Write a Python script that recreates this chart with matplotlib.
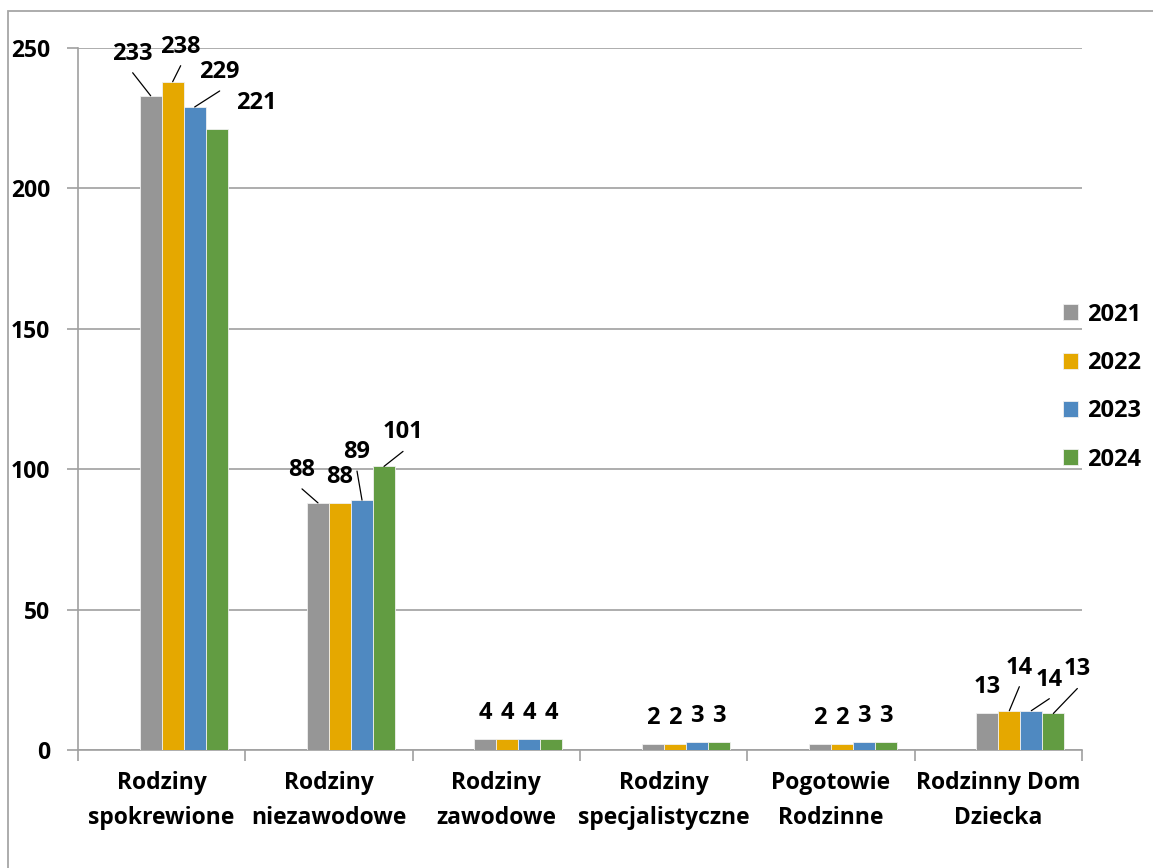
import matplotlib
matplotlib.use("Agg")
import matplotlib.pyplot as plt
from matplotlib.patches import Rectangle
import numpy as np

plt.rcParams["font.family"] = ["Open Sans", "DejaVu Sans"]
plt.rcParams["font.weight"] = "bold"

categories = ["Rodziny\nspokrewione", "Rodziny\nniezawodowe", "Rodziny\nzawodowe",
              "Rodziny\nspecjalistyczne", "Pogotowie\nRodzinne", "Rodzinny Dom\nDziecka"]
years = ["2021", "2022", "2023", "2024"]
v2021 = [233, 88, 4, 2, 2, 13]
v2022 = [238, 88, 4, 2, 2, 14]
v2023 = [229, 89, 4, 3, 3, 14]
v2024 = [221, 101, 4, 3, 3, 13]
series = [v2021, v2022, v2023, v2024]
colors = ["#969696", "#E5A800", "#4F89C1", "#629C42"]

# label shifts in pixels (dx, dy up) for labels Excel moved aside, with leader line
moved = {
    (0, 0): (-18, 16), (0, 1): (8, 9), (0, 2): (25, 9), (0, 3): (40, 0),
    (1, 0): (-16, 7), (1, 2): (-5, 22), (1, 3): (19, 8),
    (5, 1): (10, 17), (5, 2): (18, 5), (5, 3): (24, 18),
}
no_leader = {(0, 3)}

fig = plt.figure(figsize=(11.53, 8.68), dpi=100)
ax = fig.add_axes([78 / 1153, 118 / 868, 1004 / 1153, 702 / 868])

# outer chart frame
fig.patches.append(Rectangle((8 / 1153, -0.05), 1.1, 1 - 11 / 868 + 0.05,
                             transform=fig.transFigure, fill=False,
                             edgecolor="#a6a6a6", lw=1.3))

x = np.arange(len(categories))
w = 0.1315
for k, vals in enumerate(series):
    xs = x + (k - 0.5) * w
    ax.bar(xs, vals, width=w, color=colors[k], edgecolor="#f0f0f0", lw=0.6,
           label=years[k], zorder=3)
    for i, v in enumerate(vals):
        dx, dy = moved.get((i, k), (0, 0))
        up = 26 + dy
        ax.annotate(str(v), xy=(xs[i], v), xytext=(dx, up),
                    textcoords="offset pixels", ha="center", va="center",
                    fontsize=17, fontweight="bold", zorder=5)
        if (i, k) in moved and (i, k) not in no_leader:
            ax.annotate("", xy=(xs[i], v), xytext=(dx, up - 19),
                        textcoords="offset pixels",
                        arrowprops=dict(arrowstyle="-", color="black", lw=0.9,
                                        shrinkA=0, shrinkB=0), zorder=4)

ax.set_xlim(-0.5, len(categories) - 0.5)
ax.set_ylim(0, 250)
ax.set_yticks(np.arange(0, 251, 50))
ax.yaxis.grid(True, color="#a0a0a0", lw=1.2, zorder=0)
ax.set_axisbelow(True)

ax.set_xticks(np.arange(-0.5, len(categories), 1.0))
ax.set_xticklabels([])
ax.set_xticks(x, minor=True)
ax.set_xticklabels(categories, minor=True, fontsize=16.5, fontweight="bold",
                   linespacing=1.6)
ax.tick_params(axis="x", which="major", length=8, width=1.2, color="#a0a0a0",
               direction="out")
ax.tick_params(axis="x", which="minor", length=0, pad=15)
ax.tick_params(axis="y", length=8, width=1.2, color="#a0a0a0", pad=12,
               labelsize=16.5)
for lab in ax.get_yticklabels():
    lab.set_fontweight("bold")

for s in ["top", "right"]:
    ax.spines[s].set_visible(False)
for s in ["left", "bottom"]:
    ax.spines[s].set_color("#a0a0a0")
    ax.spines[s].set_linewidth(1.2)

leg = fig.legend(loc="center left", bbox_to_anchor=(0.922, 0.554), frameon=False,
                 fontsize=17, handlelength=0.65, handleheight=0.65,
                 handletextpad=0.35, labelspacing=1.03, borderpad=0,
                 borderaxespad=0)
for t in leg.get_texts():
    t.set_fontweight("bold")

fig.savefig("out.png", dpi=100)
